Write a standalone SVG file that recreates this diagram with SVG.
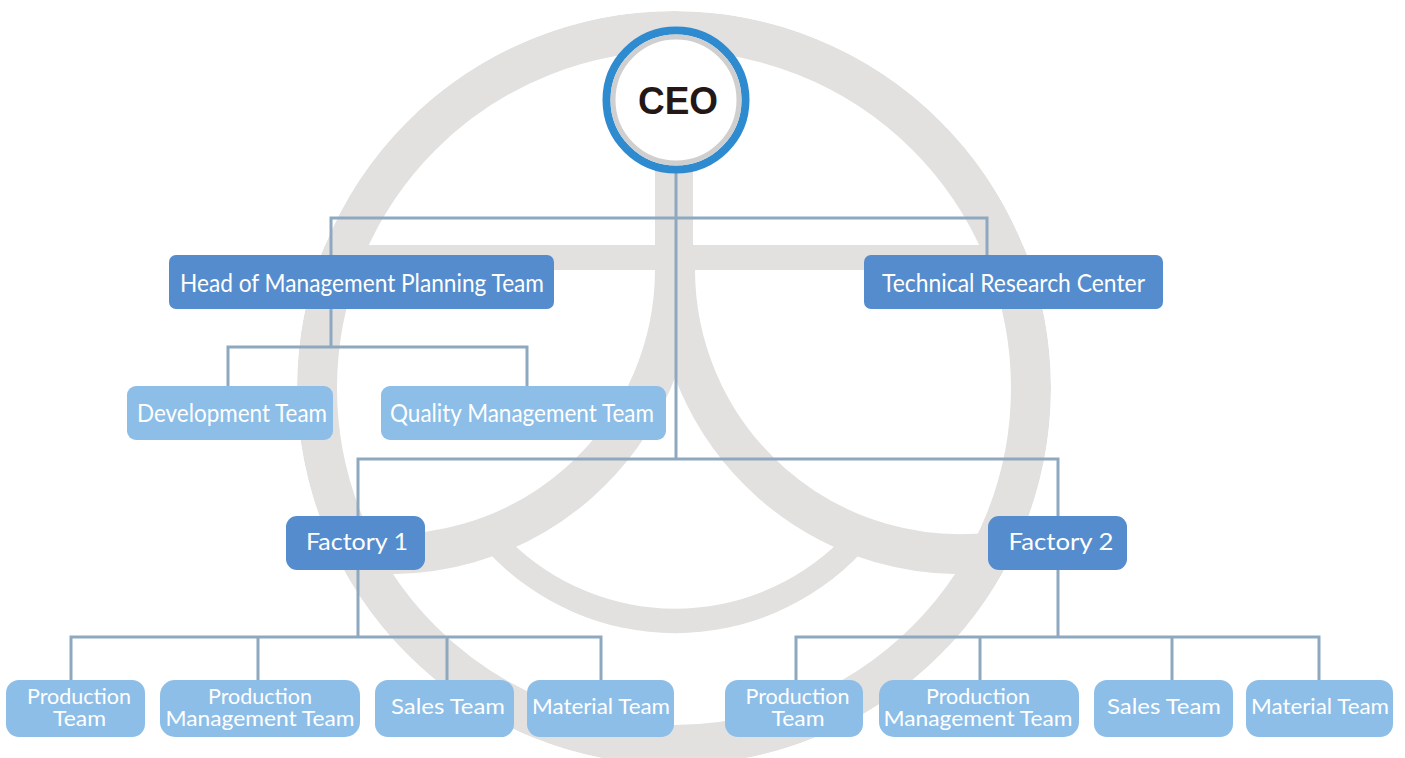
<svg xmlns="http://www.w3.org/2000/svg" width="1405" height="758" viewBox="0 0 1405 758">
<style>
text{font-family:"Lato","Liberation Sans",sans-serif;fill:#fff;text-anchor:middle}
.logo{fill:none;stroke:#e2e1df}
.dark{fill:#558ccd}
.light{fill:#8cbee8}
.conn{fill:none;stroke:#8ea9bf;stroke-width:3}
.big{font-size:25px}
.fac{font-size:24px}
.small{font-size:21px}
</style>
<defs><clipPath id="ringClip"><circle cx="674" cy="388" r="377"/></clipPath></defs>
<g id="logo" clip-path="url(#ringClip)">
<circle class="logo" cx="674" cy="388" r="357" stroke-width="40"/>
<rect x="300" y="245" width="750" height="25" fill="#e2e1df"/>
<rect x="655" y="30" width="38" height="240" fill="#e2e1df"/>
<path class="logo" stroke-width="40" d="M675 269A285 285 0 0 1 355 552"/>
<path class="logo" stroke-width="40" d="M675 269A285 285 0 0 0 995 552"/>
<path d="M488 552A256 256 0 0 0 862 552L840 541A235 235 0 0 1 510 541Z" fill="#e2e1df"/>
</g>
<g id="connectors" class="conn">
<path class="conn" d="M676 170V459M331 255V218H987V255"/>
<path class="conn" d="M331 309V347M228 386V347H527V386"/>
<path class="conn" d="M358 516V459H1058V516"/>
<path class="conn" d="M358 570V637M71 680V637H601V680M258 637V680M447 637V680"/>
<path class="conn" d="M1058 570V637M796 680V637H1319V680M980 637V680M1172 637V680"/>
</g>
<g id="ceo">
<circle cx="676" cy="100" r="69.500" fill="#fff" stroke="#2f8bd0" stroke-width="8"/>
<circle cx="676" cy="100" r="63" fill="#fff" stroke="#cfcfcf" stroke-width="5"/>
<text x="678" y="114" style="font-family:'Liberation Sans',sans-serif;font-weight:bold;fill:#231815;font-size:38px" textLength="80" lengthAdjust="spacingAndGlyphs">CEO</text>
</g>
<g id="head-planning"><rect class="dark" x="169" y="255" width="385" height="54" rx="7"/><text class="big" x="362" y="292" textLength="364" lengthAdjust="spacingAndGlyphs">Head of Management Planning Team</text></g>
<g id="tech-center"><rect class="dark" x="864" y="255" width="299" height="54" rx="7"/><text class="big" x="1013.500" y="292" textLength="263" lengthAdjust="spacingAndGlyphs">Technical Research Center</text></g>
<g id="development"><rect class="light" x="127" y="386" width="206" height="54" rx="9"/><text class="big" x="232" y="422" textLength="190" lengthAdjust="spacingAndGlyphs">Development Team</text></g>
<g id="quality"><rect class="light" x="381" y="386" width="285" height="54" rx="9"/><text class="big" x="522" y="422" textLength="264" lengthAdjust="spacingAndGlyphs">Quality Management Team</text></g>
<g id="factory1"><rect class="dark" x="286" y="516" width="139" height="54" rx="11"/><text class="fac" x="357" y="550" textLength="102" lengthAdjust="spacingAndGlyphs">Factory 1</text></g>
<g id="factory2"><rect class="dark" x="988" y="516" width="139" height="54" rx="11"/><text class="fac" x="1061" y="550" textLength="105" lengthAdjust="spacingAndGlyphs">Factory 2</text></g>
<g id="prod1"><rect class="light" x="6" y="680" width="139" height="57" rx="13"/><text class="small" x="79" y="704" textLength="104" lengthAdjust="spacingAndGlyphs">Production</text><text class="small" x="79.500" y="726" textLength="53" lengthAdjust="spacingAndGlyphs">Team</text></g>
<g id="prodmgmt1"><rect class="light" x="160" y="680" width="200" height="57" rx="15"/><text class="small" x="260" y="704" textLength="104" lengthAdjust="spacingAndGlyphs">Production</text><text class="small" x="260" y="726" textLength="189" lengthAdjust="spacingAndGlyphs">Management Team</text></g>
<g id="sales1"><rect class="light" x="375" y="680" width="139" height="57" rx="13"/><text class="small" x="448" y="714" textLength="114" lengthAdjust="spacingAndGlyphs">Sales Team</text></g>
<g id="material1"><rect class="light" x="527" y="680" width="147" height="57" rx="13"/><text class="small" x="601" y="714" textLength="138" lengthAdjust="spacingAndGlyphs">Material Team</text></g>
<g id="prod2"><rect class="light" x="725" y="680" width="138" height="57" rx="13"/><text class="small" x="797.500" y="704" textLength="104" lengthAdjust="spacingAndGlyphs">Production</text><text class="small" x="798" y="726" textLength="53" lengthAdjust="spacingAndGlyphs">Team</text></g>
<g id="prodmgmt2"><rect class="light" x="879" y="680" width="200" height="57" rx="15"/><text class="small" x="978" y="704" textLength="104" lengthAdjust="spacingAndGlyphs">Production</text><text class="small" x="978" y="726" textLength="189" lengthAdjust="spacingAndGlyphs">Management Team</text></g>
<g id="sales2"><rect class="light" x="1094" y="680" width="139" height="57" rx="13"/><text class="small" x="1164" y="714" textLength="114" lengthAdjust="spacingAndGlyphs">Sales Team</text></g>
<g id="material2"><rect class="light" x="1246" y="680" width="147" height="57" rx="13"/><text class="small" x="1320" y="714" textLength="138" lengthAdjust="spacingAndGlyphs">Material Team</text></g>
</svg>
